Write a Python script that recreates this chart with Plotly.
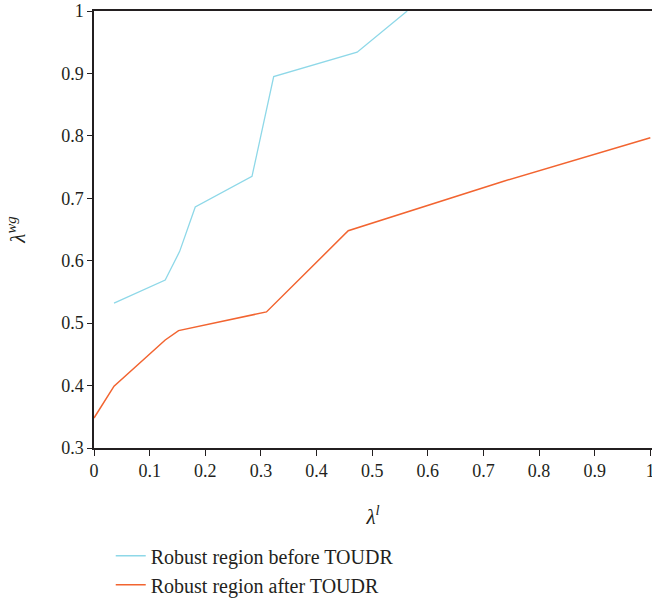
import plotly.graph_objects as go

before_x = [0.036, 0.128, 0.154, 0.182, 0.284, 0.323, 0.473, 0.563]
before_y = [0.532, 0.569, 0.615, 0.686, 0.735, 0.895, 0.934, 1.0]

after_x = [0.0, 0.036, 0.128, 0.152, 0.310, 0.457, 0.735, 1.0]
after_y = [0.348, 0.399, 0.473, 0.488, 0.518, 0.648, 0.727, 0.797]

x_ticks = [0, 0.1, 0.2, 0.3, 0.4, 0.5, 0.6, 0.7, 0.8, 0.9, 1]
x_tick_labels = ["0", "0.1", "0.2", "0.3", "0.4", "0.5", "0.6", "0.7", "0.8", "0.9", "1"]
y_ticks = [0.3, 0.4, 0.5, 0.6, 0.7, 0.8, 0.9, 1]
y_tick_labels = ["0.3", "0.4", "0.5", "0.6", "0.7", "0.8", "0.9", "1"]

FONT = "Liberation Serif, DejaVu Serif, serif"

fig = go.Figure()
fig.add_trace(go.Scatter(x=before_x, y=before_y, mode="lines",
                         name="Robust region before TOUDR",
                         line=dict(color="#8ed8e8", width=1.3)))
fig.add_trace(go.Scatter(x=after_x, y=after_y, mode="lines",
                         name="Robust region after TOUDR",
                         line=dict(color="#f26430", width=1.5)))

fig.update_layout(
    width=652, height=598,
    margin=dict(l=94, r=0, t=11, b=150, autoexpand=False),
    plot_bgcolor="white", paper_bgcolor="white",
    font=dict(family=FONT, size=18, color="#231f20"),
    showlegend=True,
    legend=dict(x=0.03, y=-0.202, xanchor="left", yanchor="top",
                font=dict(family=FONT, size=20, color="#231f20"),
                bgcolor="rgba(0,0,0,0)", tracegroupgap=0),
)
fig.update_xaxes(range=[0, 1.003], tickmode="array", tickvals=x_ticks, ticktext=x_tick_labels,
                 showgrid=False, zeroline=False, showline=True, linecolor="#231f20",
                 linewidth=1.5, mirror=True, ticks="outside", ticklen=6, tickcolor="#231f20",
                 automargin=False, ticklabeloverflow="allow",
                 title=dict(text="<i>λ<sup>l</sup></i>", font=dict(size=21), standoff=29))
fig.update_yaxes(range=[0.3, 1], tickmode="array", tickvals=y_ticks, ticktext=y_tick_labels,
                 showgrid=False, zeroline=False, showline=True, linecolor="#231f20",
                 linewidth=1.5, mirror=False, ticks="outside", ticklen=5, tickcolor="#231f20",
                 automargin=False,
                 title=dict(text="<i>λ<sup>wg</sup></i>", font=dict(size=21), standoff=30))

fig.write_html("out.html", config={"displayModeBar": False},
               post_script="document.body.style.margin='0';document.body.style.overflow='hidden';")
